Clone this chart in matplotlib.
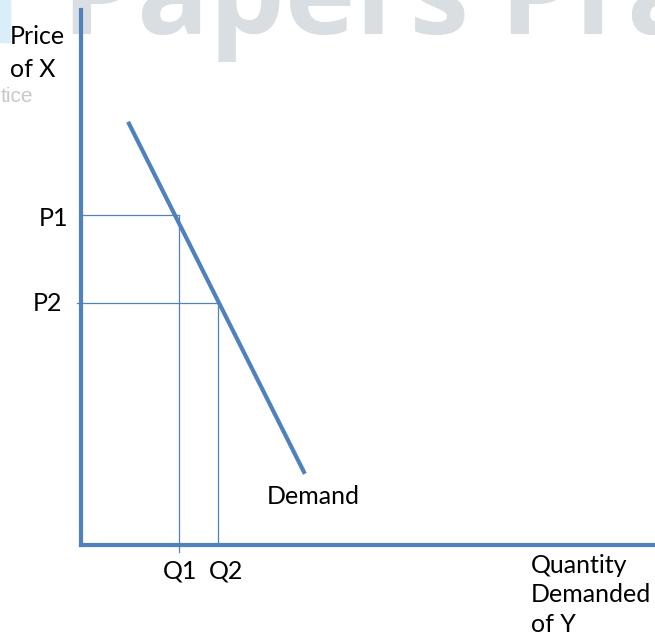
import matplotlib
matplotlib.use('Agg')
import matplotlib.pyplot as plt

# demand curve end points (quantity, price) in chart units 0..100
demand_q = [8.2, 39.0]
demand_p = [79.1, 13.3]

q_levels = [17.1, 23.8]
p_levels = [61.6, 45.2]
q_names = ['Q1', 'Q2']
p_names = ['P1', 'P2']

blue = '#4f81bd'
font = 'Lato'

fig = plt.figure(figsize=(6.55, 6.42), dpi=100)

# faint watermark behind the chart
fig.patches.append(plt.Rectangle((0, 600 / 642), 10 / 655, 42 / 642,
                                 transform=fig.transFigure, color='#d9eef8',
                                 zorder=-2))
fig.text(62 / 655, 1 - 34 / 642, 'Papers Pra', fontsize=86, fontweight='bold',
         color='#d9dee2', family='Open Sans', va='baseline', ha='left',
         zorder=-1)
fig.text(33 / 655, 1 - 96 / 642, 'tice', fontsize=15, color='#c8c8c8',
         family='Liberation Sans', va='center', ha='right', zorder=-1)

ax = fig.add_axes([81 / 655, 97 / 642, 574 / 655, 535 / 642])
ax.patch.set_visible(False)
ax.set_xlim(0, 100)
ax.set_ylim(0, 100)
for side in ['top', 'right']:
    ax.spines[side].set_visible(False)
for side in ['left', 'bottom']:
    ax.spines[side].set_color(blue)
    ax.spines[side].set_linewidth(3)
ax.set_xticks([])
ax.set_yticks([])

# guide lines
ax.plot([0, q_levels[0]], [p_levels[0], p_levels[0]], color=blue, lw=0.9)
ax.plot([-0.7, q_levels[1]], [p_levels[1], p_levels[1]], color=blue, lw=0.9,
        clip_on=False)
ax.plot([q_levels[0], q_levels[0]], [-1.3, p_levels[0]], color=blue, lw=0.9,
        clip_on=False)
ax.plot([q_levels[1], q_levels[1]], [0, p_levels[1]], color=blue, lw=0.9)

ax.plot(demand_q, demand_p, color=blue, lw=3, solid_capstyle='butt')

tk = dict(fontsize=18, family=font, color='black', clip_on=False)
ax.text(-2.3, p_levels[0] - 0.5, p_names[0], ha='right', va='center', **tk)
ax.text(-3.3, p_levels[1], p_names[1], ha='right', va='center', **tk)
ax.text(q_levels[0] + 0.2, -4.8, q_names[0], ha='center', va='center', **tk)
ax.text(q_levels[1] + 1.4, -4.8, q_names[1], ha='center', va='center', **tk)
ax.text(32.4, 9.0, 'Demand', ha='left', va='center', **tk)
ax.text(78.4, -1.6, 'Quantity\nDemanded\nof Y', ha='left', va='top',
        linespacing=1.35, **tk)
ax.text(-12.4, 97.2, 'Price\nof X', ha='left', va='top', linespacing=1.55, **tk)

fig.savefig('out.png', dpi=100)
